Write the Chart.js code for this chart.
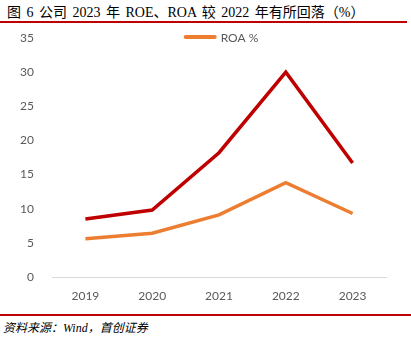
<!DOCTYPE html>
<html>
<head>
<meta charset="utf-8">
<script src="https://cdn.jsdelivr.net/npm/chart.js@4/dist/chart.umd.min.js"></script>
<style>
  html, body { margin: 0; padding: 0; background: #fff; }
  body { width: 411px; height: 337px; position: relative; overflow: hidden; }
  #titulo {
    position: absolute; left: 7px; top: 1px;
    font-family: "Liberation Serif", "Noto Sans CJK SC", serif;
    font-size: 14px; color: #000; white-space: nowrap; word-spacing: 2px;
  }
  #linea-top { position: absolute; left: 0; top: 21px; width: 407px; height: 2px; background: #C00000; }
  #caja { position: absolute; left: 0; top: 24px; width: 411px; height: 288px; }
  #linea-bottom { position: absolute; left: 0; top: 314px; width: 411px; height: 2px; background: #C00000; }
  #fuente {
    position: absolute; left: 3px; top: 318px;
    font-family: "Liberation Serif", "Noto Sans CJK SC", serif;
    font-style: italic; font-size: 12px; color: #000; white-space: nowrap;
  }
</style>
</head>
<body>
<div id="titulo">图 6 公司 2023 年 ROE、ROA 较 2022 年有所回落（%）</div>
<div id="linea-top"></div>
<div id="caja"><canvas id="grafico"></canvas></div>
<div id="linea-bottom"></div>
<div id="fuente">资料来源：Wind，首创证券</div>
<script>
const anios = ['2019', '2020', '2021', '2022', '2023'];
const roe = [8.5, 9.8, 18.2, 30.0, 16.7];
const roa = [5.6, 6.4, 9.1, 13.8, 9.3];

// leyenda dentro del area del grafico (solo ROA, como en el original)
const leyendaInterna = {
    id: 'leyendaInterna',
    afterDraw(chart) {
        const ds = chart.data.datasets[1];
        const area = chart.chartArea;
        const c = chart.ctx;
        c.save();
        c.font = '12px Lato';
        const anchoTexto = c.measureText(ds.label).width;
        const anchoLinea = 33;
        const total = anchoLinea + 4 + anchoTexto;
        const x0 = (area.left + area.right) / 2 - total / 2 + 2;
        const y = area.top - 1;
        c.strokeStyle = ds.borderColor;
        c.lineWidth = 4;
        c.lineCap = 'round';
        c.beginPath();
        c.moveTo(x0 + 2, y);
        c.lineTo(x0 + anchoLinea - 2, y);
        c.stroke();
        c.fillStyle = '#595959';
        c.textBaseline = 'middle';
        c.fillText(ds.label, x0 + anchoLinea + 4, y + 1);
        c.restore();
    }
};

const ctx = document.getElementById('grafico').getContext('2d');

new Chart(ctx, {
    type: 'line',
    data: {
        labels: anios,
        datasets: [{
            label: 'ROE %',
            data: roe,
            borderColor: '#C00000',
            backgroundColor: '#C00000',
            borderWidth: 3.5,
            pointRadius: 0,
            tension: 0
        }, {
            label: 'ROA %',
            data: roa,
            borderColor: '#ED7D31',
            backgroundColor: '#ED7D31',
            borderWidth: 3.5,
            pointRadius: 0,
            tension: 0
        }]
    },
    options: {
        responsive: true,
        maintainAspectRatio: false,
        animation: false,
        layout: {
            padding: { top: 14, right: 25, bottom: 5, left: 0 }
        },
        plugins: {
            legend: { display: false },
            tooltip: { enabled: false }
        },
        scales: {
            x: {
                offset: true,
                grid: { display: false, drawTicks: false },
                border: { display: true, color: '#D9D9D9', width: 1 },
                ticks: {
                    color: '#595959',
                    padding: 12,
                    maxRotation: 0,
                    minRotation: 0,
                    font: { family: 'Lato', size: 12 }
                },
                afterFit: (scale) => { scale.height = 30; }
            },
            y: {
                min: 0,
                max: 35,
                grid: {
                    display: true,
                    drawOnChartArea: false,
                    drawTicks: true,
                    tickLength: 14,
                    tickColor: 'rgba(0,0,0,0)'
                },
                border: { display: false },
                ticks: {
                    stepSize: 5,
                    color: '#595959',
                    padding: 4,
                    font: { family: 'Lato', size: 12 }
                },
                afterFit: (scale) => { scale.width = 52; }
            }
        }
    },
    plugins: [leyendaInterna]
});
</script>
</body>
</html>
